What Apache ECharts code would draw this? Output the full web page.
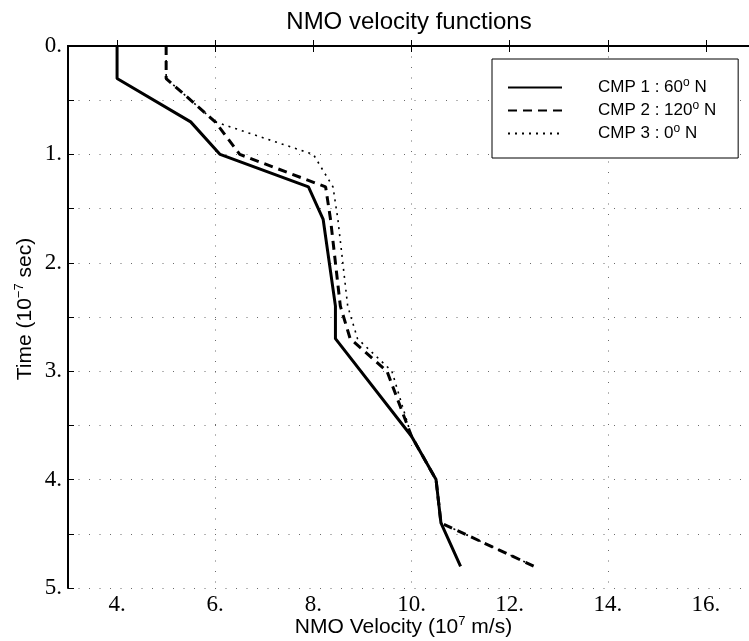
<!DOCTYPE html>
<html>
<head>
<meta charset="utf-8">
<script src="https://cdn.jsdelivr.net/npm/echarts@6/dist/echarts.min.js"></script>
<style>
  html, body { margin: 0; padding: 0; background: #fff; }
  #chart { width: 749px; height: 641px; }
</style>
</head>
<body>
<div id="chart"></div>
<script>
// NMO velocity functions, velocity (10^7 m/s) against time (10^-7 s)
const cmp1Vel = [4.0, 4.0, 5.5, 6.1, 7.9, 8.2, 8.45, 8.45, 10.0, 10.5, 10.6, 11.0];
const cmp1Time = [0, 0.3, 0.7, 1.0, 1.3, 1.6, 2.4, 2.7, 3.6, 4.0, 4.4, 4.8];

const cmp2Vel = [5.0, 5.0, 6.0, 6.5, 8.25, 8.35, 8.55, 8.75, 9.5, 10.0, 10.5, 10.6, 12.5];
const cmp2Time = [0, 0.3, 0.7, 1.0, 1.3, 1.6, 2.4, 2.7, 3.0, 3.6, 4.0, 4.4, 4.8];

const cmp3Vel = [5.0, 5.0, 6.0, 8.0, 8.4, 8.5, 8.7, 8.9, 9.6, 10.0, 10.5, 10.6, 12.5];
const cmp3Time = [0, 0.3, 0.7, 1.0, 1.3, 1.6, 2.4, 2.7, 3.0, 3.6, 4.0, 4.4, 4.8];

const seriesNames = ['CMP 1 : 60{s|o} N', 'CMP 2 : 120{s|o} N', 'CMP 3 : 0{s|o} N'];
const xTicks = [4, 6, 8, 10, 12, 14, 16];

const pairs = (xs, ys) => xs.map((x, i) => [x, ys[i]]);

const chart = echarts.init(document.getElementById('chart'), null, { renderer: 'canvas' });

const serif = 'Liberation Serif';
const sans = 'Liberation Sans';
const gridColor = '#6a6a6a';
const supStyle = { s: { fontSize: 13, padding: [0, 0, 11, 0] } };

const option = {
  backgroundColor: '#fff',
  animation: false,
  title: {
    text: 'NMO velocity functions',
    left: 404,
    textAlign: 'center',
    top: 5,
    textStyle: { fontFamily: sans, fontSize: 24, fontWeight: 'normal', color: '#000' },
  },
  grid: { left: 68, top: 46, width: 687, height: 542, outerBoundsMode: 'none' },
  legend: {
    orient: 'vertical',
    left: 492,
    top: 59,
    padding: [18, 22, 14, 15],
    itemWidth: 54,
    itemHeight: 14,
    itemGap: 2,
    borderColor: '#000',
    borderWidth: 1,
    backgroundColor: '#fff',
    itemStyle: { opacity: 0 },
    textStyle: {
      fontFamily: sans,
      fontSize: 17,
      color: '#000',
      lineHeight: 18,
      padding: [0, 0, 0, 31],
      rich: { s: { fontSize: 12, lineHeight: 18, padding: [0, 0, 9, 0] } },
    },
  },
  xAxis: [
    {
      type: 'value',
      min: 3,
      max: 17,
      interval: 1,
      name: 'NMO Velocity (10{s|7} m/s)',
      nameLocation: 'middle',
      nameGap: 27,
      nameMoveOverlap: false,
      nameTextStyle: {
        fontFamily: sans,
        fontSize: 21,
        color: '#000',
        padding: [0, 16, 0, 0],
        rich: supStyle,
      },
      axisLine: { lineStyle: { color: '#000', width: 2 } },
      axisTick: { inside: true, length: 6, customValues: xTicks, lineStyle: { color: '#000' } },
      axisLabel: {
        customValues: xTicks,
        formatter: (v) => v + '.',
        fontFamily: serif,
        fontSize: 23,
        color: '#000',
        margin: 5,
      },
      splitLine: {
        show: true,
        lineStyle: { color: ['rgba(0,0,0,0)', gridColor], type: [1, 9.5], width: 1 },
      },
    },
    {
      type: 'value',
      position: 'top',
      min: 3,
      max: 17,
      interval: 1,
      axisLine: { lineStyle: { color: '#000', width: 2 } },
      axisTick: { inside: true, length: 6, customValues: xTicks, lineStyle: { color: '#000' } },
      axisLabel: { show: false },
      splitLine: { show: false },
    },
  ],
  yAxis: {
    type: 'value',
    inverse: true,
    min: 0,
    max: 5,
    interval: 0.5,
    name: 'Time (10{s|\u22127} sec)',
    nameLocation: 'middle',
    nameGap: 31,
    nameRotate: 90,
    nameMoveOverlap: false,
    nameTextStyle: {
      fontFamily: sans,
      fontSize: 21,
      color: '#000',
      padding: [0, 0, 0, 16],
      rich: supStyle,
    },
    axisLine: { show: true, lineStyle: { color: '#000', width: 2 } },
    axisTick: { show: true, inside: true, length: 6, lineStyle: { color: '#000' } },
    axisLabel: {
      showMinLabel: true,
      showMaxLabel: true,
      formatter: (v) => (Math.abs(v - Math.round(v)) < 1e-6 ? Math.round(v) + '.' : ''),
      fontFamily: serif,
      fontSize: 23,
      color: '#000',
      margin: 6,
    },
    splitLine: { show: true, lineStyle: { color: gridColor, type: [1, 9.5], width: 1 } },
  },
  series: [
    {
      name: seriesNames[0],
      type: 'line',
      data: pairs(cmp1Vel, cmp1Time),
      symbol: 'none',
      itemStyle: { color: '#000' },
      lineStyle: { color: '#000', width: 3, type: 'solid' },
      z: 3,
    },
    {
      name: seriesNames[1],
      type: 'line',
      data: pairs(cmp2Vel, cmp2Time),
      symbol: 'none',
      itemStyle: { color: '#000' },
      lineStyle: { color: '#000', width: 3, type: [9, 6] },
      z: 2,
    },
    {
      name: seriesNames[2],
      type: 'line',
      data: pairs(cmp3Vel, cmp3Time),
      symbol: 'none',
      itemStyle: { color: '#000' },
      lineStyle: { color: '#000', width: 1.6, type: [2, 5] },
      z: 2,
    },
  ],
};

chart.setOption(option);
</script>
</body>
</html>
